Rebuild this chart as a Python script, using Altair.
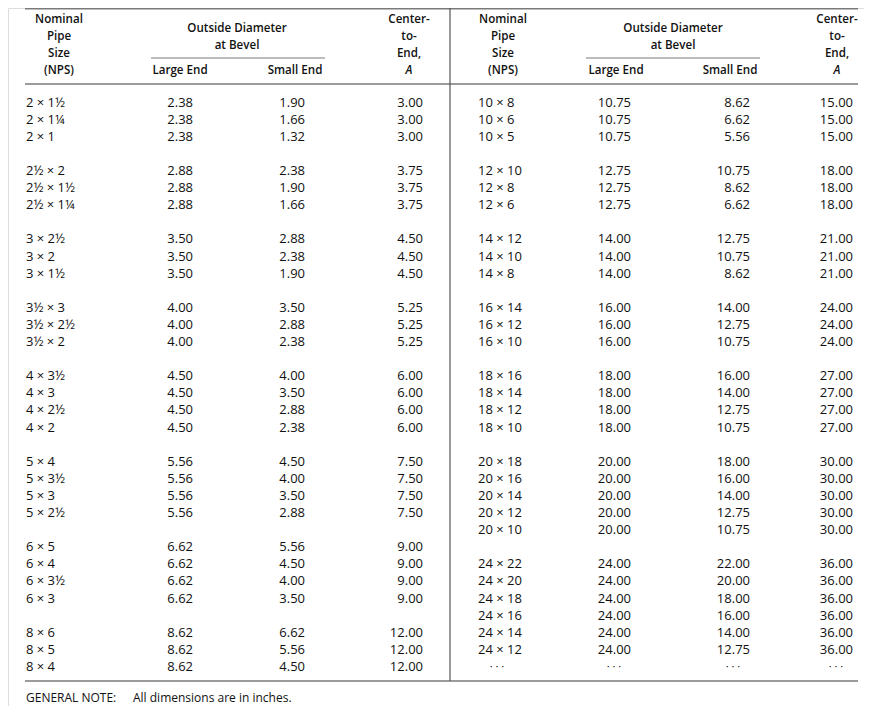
import altair as alt
import pandas as pd

# ---------------- data ----------------
left_nps = ["2 × 1½", "2 × 1¼", "2 × 1",
            "2½ × 2", "2½ × 1½", "2½ × 1¼",
            "3 × 2½", "3 × 2", "3 × 1½",
            "3½ × 3", "3½ × 2½", "3½ × 2",
            "4 × 3½", "4 × 3", "4 × 2½", "4 × 2",
            "5 × 4", "5 × 3½", "5 × 3", "5 × 2½",
            "6 × 5", "6 × 4", "6 × 3½", "6 × 3",
            "8 × 6", "8 × 5", "8 × 4"]
left_large = [2.38, 2.38, 2.38, 2.88, 2.88, 2.88, 3.50, 3.50, 3.50,
              4.00, 4.00, 4.00, 4.50, 4.50, 4.50, 4.50, 5.56, 5.56, 5.56, 5.56,
              6.62, 6.62, 6.62, 6.62, 8.62, 8.62, 8.62]
left_small = [1.90, 1.66, 1.32, 2.38, 1.90, 1.66, 2.88, 2.38, 1.90,
              3.50, 2.88, 2.38, 4.00, 3.50, 2.88, 2.38, 4.50, 4.00, 3.50, 2.88,
              5.56, 4.50, 4.00, 3.50, 6.62, 5.56, 4.50]
left_center = [3.00, 3.00, 3.00, 3.75, 3.75, 3.75, 4.50, 4.50, 4.50,
               5.25, 5.25, 5.25, 6.00, 6.00, 6.00, 6.00, 7.50, 7.50, 7.50, 7.50,
               9.00, 9.00, 9.00, 9.00, 12.00, 12.00, 12.00]
left_groups = [3, 3, 3, 3, 4, 4, 4, 3]

right_nps = ["10 × 8", "10 × 6", "10 × 5",
             "12 × 10", "12 × 8", "12 × 6",
             "14 × 12", "14 × 10", "14 × 8",
             "16 × 14", "16 × 12", "16 × 10",
             "18 × 16", "18 × 14", "18 × 12", "18 × 10",
             "20 × 18", "20 × 16", "20 × 14", "20 × 12", "20 × 10",
             "24 × 22", "24 × 20", "24 × 18", "24 × 16", "24 × 14", "24 × 12"]
right_large = [10.75, 10.75, 10.75, 12.75, 12.75, 12.75, 14.00, 14.00, 14.00,
               16.00, 16.00, 16.00, 18.00, 18.00, 18.00, 18.00,
               20.00, 20.00, 20.00, 20.00, 20.00,
               24.00, 24.00, 24.00, 24.00, 24.00, 24.00]
right_small = [8.62, 6.62, 5.56, 10.75, 8.62, 6.62, 12.75, 10.75, 8.62,
               14.00, 12.75, 10.75, 16.00, 14.00, 12.75, 10.75,
               18.00, 16.00, 14.00, 12.75, 10.75,
               22.00, 20.00, 18.00, 16.00, 14.00, 12.75]
right_center = [15.00, 15.00, 15.00, 18.00, 18.00, 18.00, 21.00, 21.00, 21.00,
                24.00, 24.00, 24.00, 27.00, 27.00, 27.00, 27.00,
                30.00, 30.00, 30.00, 30.00, 30.00,
                36.00, 36.00, 36.00, 36.00, 36.00, 36.00]
right_groups = [3, 3, 3, 3, 4, 5, 6]

header_nps = ["Nominal", "Pipe", "Size", "(NPS)"]
header_od = ["Outside Diameter", "at Bevel"]
header_sub = ["Large End", "Small End"]
header_center = ["Center-", "to-", "End,"]
header_symbol = "A"
ellipsis = "· · ·"
note_label = "GENERAL NOTE:"
note_text = "All dimensions are in inches."

# ---------------- layout ----------------
FONT = "Open Sans"
INK = "#111111"
LINE = "#7a7a7a"
W, H = 856, 698
PITCH = 17.1           # px per table row
Y0 = 94.6              # chart-y of first body row


def slot_of(px):       # chart pixel -> row units
    return (px - Y0) / PITCH


def slots(groups):
    out, start = [], 0
    for g in groups:
        out += list(range(start, start + g))
        start += g + 1
    return out, start


col_x = {  # right edges of value columns / left edges of NPS columns
    "L_nps": 18, "L_large": 185, "L_small": 297, "L_center": 415,
    "R_nps": 470, "R_large": 623, "R_small": 742, "R_center": 845,
}
head_x = {
    "L_nps": 51, "L_od": 229, "L_large": 172, "L_small": 287, "L_center": 401,
    "R_nps": 495, "R_od": 665, "R_large": 608, "R_small": 722, "R_center": 829,
}
ell_x = {"nps": 489, "large": 606, "small": 725, "center": 828}

l_slots, _ = slots(left_groups)
r_slots, r_next = slots(right_groups)

nps_rows, val_rows = [], []
for side, names, lg, sm, ce, sl in [
    ("L", left_nps, left_large, left_small, left_center, l_slots),
    ("R", right_nps, right_large, right_small, right_center, r_slots),
]:
    for i, s in enumerate(sl):
        nps_rows.append({"x": col_x[side + "_nps"], "slot": s, "t": names[i]})
        for key, arr in [("large", lg), ("small", sm), ("center", ce)]:
            val_rows.append({"x": col_x[side + "_" + key], "slot": s,
                             "t": f"{arr[i]:.2f}"})

ell_slot = max(r_slots) + 1
ell_rows = [{"x": v, "slot": ell_slot, "t": ellipsis} for v in ell_x.values()]

hdr_rows = []
for side in ["L", "R"]:
    for k, t in enumerate(header_nps):
        hdr_rows.append({"x": head_x[side + "_nps"], "slot": slot_of(12 + 17 * k), "t": t})
    for k, t in enumerate(header_od):
        hdr_rows.append({"x": head_x[side + "_od"], "slot": slot_of(21 + 17 * k), "t": t})
    hdr_rows.append({"x": head_x[side + "_large"], "slot": slot_of(63), "t": header_sub[0]})
    hdr_rows.append({"x": head_x[side + "_small"], "slot": slot_of(63), "t": header_sub[1]})
    for k, t in enumerate(header_center):
        hdr_rows.append({"x": head_x[side + "_center"], "slot": slot_of(12 + 17 * k), "t": t})
sym_rows = [{"x": head_x[s + "_center"], "slot": slot_of(63), "t": header_symbol} for s in ["L", "R"]]

note_rows = [{"x": 18, "slot": slot_of(690), "t": note_label},
             {"x": 125, "slot": slot_of(690), "t": note_text}]

xs = alt.X("x:Q", scale=alt.Scale(domain=[0, W], range=[0, W], nice=False, zero=False), axis=None)
ys = alt.Y("slot:Q", scale=alt.Scale(domain=[0, 33], range=[Y0, Y0 + 33 * PITCH],
                                     nice=False, zero=False), axis=None)


def text_layer(rows, align, size=13, weight="normal", style="normal"):
    return alt.Chart(pd.DataFrame(rows)).mark_text(
        align=align, baseline="middle", font=FONT, fontSize=size,
        fontWeight=weight, fontStyle=style, color=INK,
    ).encode(x=xs, y=ys, text="t:N")


one = pd.DataFrame({"k": [0]})


def hrule(x1, x2, y, color=LINE, w=1.4):
    return alt.Chart(one).mark_rule(color=color, strokeWidth=w).encode(
        x=alt.value(x1), x2=alt.value(x2), y=alt.value(y))


def vrule(x, y1, y2, color="#555555", w=1.2):
    return alt.Chart(one).mark_rule(color=color, strokeWidth=w).encode(
        x=alt.value(x), y=alt.value(y1), y2=alt.value(y2))


layers = [
    hrule(17, 850, 0.8),
    hrule(17, 850, 76),
    hrule(143, 317, 50, w=1.1),
    hrule(578, 752, 50, w=1.1),
    hrule(17, 850, 673),
    vrule(442, 0, 673),
    text_layer(hdr_rows, "center", size=11.6, weight=600),
    text_layer(sym_rows, "center", size=11.6, weight=600, style="italic"),
    text_layer(nps_rows, "left", weight=500),
    text_layer(val_rows, "right", weight=500),
    text_layer(ell_rows, "center", size=11),
    text_layer(note_rows, "left", size=12, weight=500),
]

chart = alt.layer(*layers).properties(
    width=W, height=H, autosize=alt.AutoSizeParams(type="none"), padding=0
).configure_view(stroke=None).configure(background="white")

chart.save("out.html", embed_options={"renderer": "svg", "actions": False})
